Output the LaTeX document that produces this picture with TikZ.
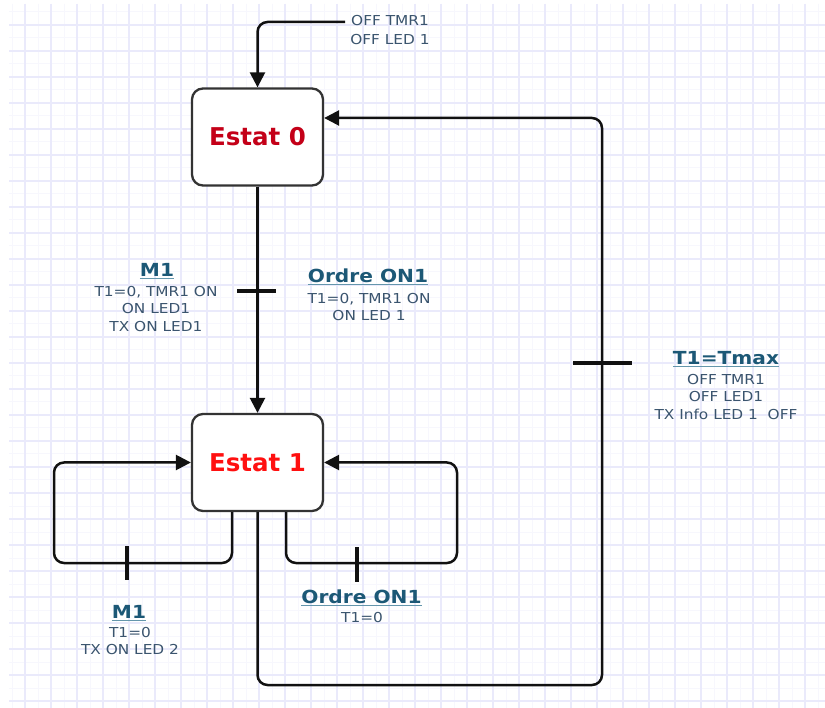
\documentclass[tikz,border=0pt]{standalone}
\usepackage{fontspec}
\setmainfont{DejaVu Sans}
\newfontfamily\bodyf[FakeStretch=1.12]{DejaVu Sans}
\newfontfamily\titlef[FakeStretch=1.12]{DejaVu Sans}
\usetikzlibrary{arrows.meta}
\definecolor{boxc}{RGB}{51,51,51}
\definecolor{linec}{RGB}{17,17,17}
\definecolor{estA}{RGB}{196,0,24}
\definecolor{estB}{RGB}{255,16,16}
\definecolor{titc}{RGB}{28,88,118}
\definecolor{bodyc}{RGB}{58,84,110}
\definecolor{ulc}{RGB}{100,150,172}
\definecolor{majg}{RGB}{234,234,251}
\definecolor{ming}{RGB}{247,247,253}
\newcommand\ulx[1]{\setbox0\hbox{#1}\rlap{\color{ulc}\rule[-2.8pt]{\wd0}{1.4pt}}\box0}
\begin{document}
\begin{tikzpicture}[x=1pt,y=-1pt,
  statebox/.style={draw=boxc, line width=2.3pt, fill=white, rounded corners=11pt,
    minimum width=131pt, minimum height=97pt, inner sep=0pt,
    font=\fontsize{24.5}{28}\selectfont\bfseries},
  conn/.style={draw=linec, line width=2.5pt, rounded corners=10pt},
  arr/.style={conn, -{Triangle[length=15pt,width=15pt]}},
  barline/.style={draw=linec, line width=4.5pt},
  ttl/.style={inner sep=0pt, text=titc, anchor=base,
    font=\titlef\fontsize{18}{20}\selectfont\bfseries},
  body/.style={inner sep=0pt, text=bodyc, align=center, anchor=north,
    font=\bodyf\fontsize{13.7}{17.5}\selectfont},
]
\useasboundingbox[fill=white] (0,0) rectangle (825,708);
% grid
\begin{scope}
\clip (9,4) rectangle (825,708);
\foreach \k in {0,...,31} {
  \draw[ming, line width=1pt] (12+26*\k,4) -- (12+26*\k,708);
  \draw[ming, line width=1pt] (9,12+26*\k) -- (825,12+26*\k);
}
\foreach \k in {0,...,31} {
  \draw[majg, line width=1.2pt] (25+26*\k,4) -- (25+26*\k,708);
  \draw[majg, line width=1.2pt] (9,25+26*\k) -- (825,25+26*\k);
}
\end{scope}

% states
\node[statebox, text=estA] (e0) at (257.5,137) {\raisebox{-2pt}{Estat 0}};
\node[statebox, text=estB] (e1) at (257.5,462.5) {Estat 1};

% coordinates
\coordinate (ini) at (345,22);
\coordinate (rc) at (602,685);
\coordinate (t0) at ([yshift=19pt]e0.east);
\coordinate (ls) at ([xshift=-25.5pt]e1.south);
\coordinate (lc) at (54,563);
\coordinate (rs) at ([xshift=28.5pt]e1.south);
\coordinate (rcc) at (457,563);

% connectors
\draw[arr] (ini) -| (e0.north);
\draw[arr] (e0.south) -- (e1.north);
\draw[arr] (e1.south) |- (rc) |- (t0);
\draw[arr] (ls) |- (lc) |- (e1.west);
\draw[arr] (rs) |- (rcc) |- (e1.east);

% transition bars
\draw[barline] (237,291) -- (276,291);
\draw[barline] (573,363) -- (632,363);
\draw[barline] (127,546) -- (127,580);
\draw[barline] (357,547) -- (357,582);

% labels
\node[body, font=\bodyf\fontsize{13.7}{19}\selectfont] (linit) at (390,15) {OFF TMR1\\OFF LED 1};

\node[ttl] (tm1a) at (157,276.5) {\ulx{M1}};
\node[body] (bm1a) at (156,286) {T1=0, TMR1 ON\\ON LED1\\TX ON LED1};

\node[ttl] (toa) at (368,282.5) {\ulx{Ordre ON1}};
\node[body] (boa) at (369,293) {T1=0, TMR1 ON\\ON LED 1};

\node[ttl] (ttm) at (726,364.5) {\ulx{T1=Tmax}};
\node[body] (btm) at (726,374) {OFF TMR1\\OFF LED1\\TX Info LED 1~~OFF};

\node[ttl] (tm1b) at (129,618.5) {\ulx{M1}};
\node[body] (bm1b) at (130,627) {T1=0\\TX ON LED 2};

\node[ttl] (tob) at (361.5,603.5) {\ulx{Ordre ON1}};
\node[body] (bob) at (362,612) {T1=0};
\end{tikzpicture}
\end{document}
